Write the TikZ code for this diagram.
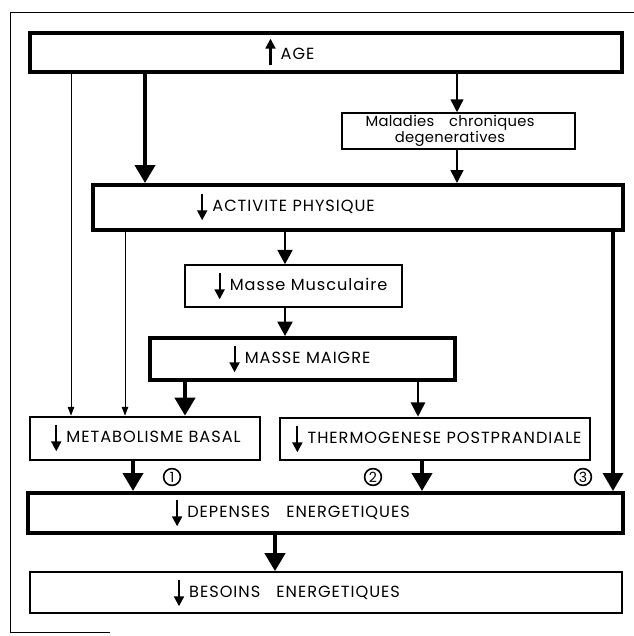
\documentclass[tikz,border=0pt]{standalone}
\usepackage{fontspec}
\setmainfont{Poppins}[LetterSpace=6]
\usetikzlibrary{arrows.meta}

% small arrows inside the labels
\newcommand{\flechebas}{\tikz[baseline=0pt]\draw[line width=1.5pt,-{Triangle[width=7pt,length=7pt]}](0,2ex)--(0,-1ex);}
\newcommand{\flechehaut}{\tikz[baseline=0pt]\draw[line width=1.5pt,-{Triangle[width=7pt,length=7pt]}](0,-0.7ex)--(0,2.3ex);}

\begin{document}
\begin{tikzpicture}[x=0.25mm,y=-0.25mm,
    font=\fontsize{11.5}{14}\selectfont,
    grosse/.style={draw,line width=1mm,inner sep=0pt},
    moyenne/.style={draw,line width=0.65mm,inner sep=0pt},
    fine/.style={draw,line width=0.4mm,inner sep=0pt},
    lien/.style={line width=0.25mm,-{Triangle[width=1.6mm,length=2.2mm]}},
    lienmoyen/.style={line width=0.4mm,-{Triangle[width=3.2mm,length=3.2mm]}},
    liengros/.style={line width=1mm,-{Triangle[width=5mm,length=4.5mm]}},
    numero/.style={draw,circle,line width=0.4mm,inner sep=0pt,minimum size=4.2mm,font=\fontsize{10}{10}\selectfont}]

    \useasboundingbox (0,0) rectangle (634,636);

    % outer frame
    \coordinate (cadrebas) at (10,632);
    \draw[line width=0.25mm] (110,632) -- (cadrebas) -- (10,12) -- (634,12);

    % age
    \node[grosse,minimum width=148mm,minimum height=9.75mm] (age) at (326,52.5) {};
    \node (agetxt) at (290,52) {\flechehaut\ AGE};

    % chronic diseases
    \node[fine,minimum width=58.25mm,minimum height=9mm] (mal) at (458.5,131) {};
    \node[align=center,font=\fontsize{10.5}{12.5}\selectfont\addfontfeatures{LetterSpace=2}] (maltxt) at (450,131) {Maladies\quad chroniques\\[-1pt]degeneratives};

    % physical activity
    \node[grosse,minimum width=132.5mm,minimum height=11.25mm] (act) at (358,207.5) {};
    \node (acttxt) at (286,207) {\flechebas\ ACTIVITE PHYSIQUE};

    %%%%%%%%%%%%%%%%%%%%%%%%%%%%%%%%%%%%%%%%%%%%%%%%%%%%%%

    % muscle mass
    \node[fine,minimum width=54.25mm,minimum height=10.5mm] (mus) at (293.5,286) {};
    \node (mustxt) at (301,286) {\flechebas\ Masse Musculaire};

    % lean mass
    \node[grosse,minimum width=76.25mm,minimum height=10.5mm] (mai) at (302.5,359) {};
    \node (maitxt) at (300,359) {\flechebas\ MASSE MAIGRE};

    %%%%%%%%%%%%%%%%%%%%%%%%%%%%%%%%%%%%%%%%%%%%%%%%%%%%%%

    % basal metabolism
    \node[moyenne,minimum width=57.5mm,minimum height=10.75mm] (met) at (145,438.5) {};
    \node (mettxt) at (146,438) {\flechebas\ METABOLISME BASAL};

    % postprandial thermogenesis
    \node[moyenne,minimum width=77.5mm,minimum height=10.5mm] (the) at (435,439) {};
    \node (thetxt) at (437,439) {\flechebas\ THERMOGENESE POSTPRANDIALE};

    % energy expenditure
    \node[grosse,minimum width=148.75mm,minimum height=10mm] (dep) at (325.5,513) {};
    \node (deptxt) at (291,513) {\flechebas\ DEPENSES\quad ENERGETIQUES};

    % energy needs
    \node[fine,minimum width=148mm,minimum height=10.25mm] (bes) at (326,592.5) {};
    \node (bestxt) at (287,593) {\flechebas\ BESOINS\quad ENERGETIQUES};

    % numbers
    \node[numero] (un) at (172,477) {1};
    \node[numero] (deux) at (373,477) {2};
    \node[numero] (trois) at (583,477) {3};

    %%%%%%%%%%%%%%%%%%%%%%%%%%%%%%%%%%%%%%%%%%%%%%%%%%%%%%

    % links
    \draw[lien] (age.south -| 71,0) -- (met.north -| 71,0);
    \draw[liengros] (age.south -| 145,0) -- (act.north -| 145,0);
    \draw[lienmoyen] (age.south -| 457,0) -- (mal.north -| 457,0);
    \draw[lienmoyen] (mal.south -| 457,0) -- (act.north -| 457,0);
    \draw[lien] (act.south -| 125,0) -- (met.north -| 125,0);
    \draw[lienmoyen,-{Triangle[width=3.8mm,length=3.6mm]}] (act.south -| 285,0) -- (mus.north -| 285,0);
    \draw[lienmoyen,-{Triangle[width=3.8mm,length=3.6mm]}] (mus.south -| 285,0) -- (mai.north -| 285,0);
    \draw[liengros] (mai.south -| 185,0) -- (met.north -| 185,0);
    \draw[lienmoyen,-{Triangle[width=3.6mm,length=3.6mm]}] (mai.south -| 418,0) -- (the.north -| 418,0);
    \draw[liengros,line width=0.8mm] (act.south -| 613,0) -- (dep.north -| 613,0);
    \draw[liengros] (met.south -| 133,0) -- (dep.north -| 133,0);
    \draw[liengros] (the.south -| 422,0) -- (dep.north -| 422,0);
    \draw[liengros] (dep.south -| 275,0) -- (bes.north -| 275,0);

\end{tikzpicture}
\end{document}
